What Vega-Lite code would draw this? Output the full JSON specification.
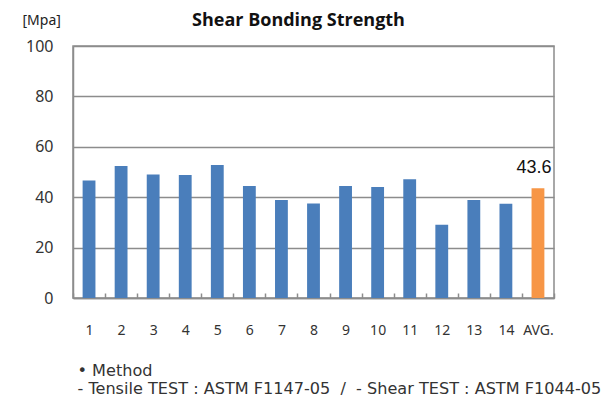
{
  "$schema": "https://vega.github.io/schema/vega-lite/v6.json",
  "width": 481,
  "height": 252,
  "autosize": "none",
  "padding": {"left": 73, "top": 46, "right": 50, "bottom": 102},
  "background": "white",
  "title": {
    "text": "Shear Bonding Strength",
    "font": "Open Sans",
    "fontSize": 18,
    "fontWeight": "bold",
    "color": "#111111",
    "anchor": "middle",
    "dx": -15,
    "offset": -17
  },
  "data": {
    "values": [
      {"sample": "1", "value": 46.6, "type": "sample"},
      {"sample": "2", "value": 52.4, "type": "sample"},
      {"sample": "3", "value": 49.0, "type": "sample"},
      {"sample": "4", "value": 48.8, "type": "sample"},
      {"sample": "5", "value": 52.8, "type": "sample"},
      {"sample": "6", "value": 44.4, "type": "sample"},
      {"sample": "7", "value": 38.9, "type": "sample"},
      {"sample": "8", "value": 37.5, "type": "sample"},
      {"sample": "9", "value": 44.4, "type": "sample"},
      {"sample": "10", "value": 44.0, "type": "sample"},
      {"sample": "11", "value": 47.1, "type": "sample"},
      {"sample": "12", "value": 29.1, "type": "sample"},
      {"sample": "13", "value": 38.9, "type": "sample"},
      {"sample": "14", "value": 37.4, "type": "sample"},
      {"sample": "AVG.", "value": 43.6, "type": "avg"}
    ]
  },
  "config": {
    "view": {"stroke": "#8c8c8c", "strokeWidth": 1.5}
  },
  "encoding": {
    "x": {
      "field": "sample",
      "type": "ordinal",
      "sort": null,
      "scale": {"paddingInner": 0, "paddingOuter": 0},
      "axis": {
        "labelAngle": 0,
        "labelFont": "Noto Sans",
        "labelFontSize": 14,
        "labelColor": "#333333",
        "labelPadding": 30,
        "tickBand": "extent",
        "tickSize": -5,
        "tickColor": "#8c8c8c",
        "tickWidth": 1.5,
        "domainColor": "#8c8c8c",
        "domainWidth": 1.5,
        "title": ["• Method", "- Tensile TEST : ASTM F1147-05\u00a0\u00a0/\u00a0\u00a0- Shear TEST : ASTM F1044-05"],
        "titleFont": "DejaVu Sans",
        "titleFontSize": 16.1,
        "titleFontWeight": "normal",
        "titleColor": "#333333",
        "titleAnchor": "start",
        "titleAlign": "left",
        "titleBaseline": "top",
        "titleX": 4,
        "titleY": 64,
        "titleLineHeight": 18
      }
    },
    "y": {
      "field": "value",
      "type": "quantitative",
      "scale": {"domain": [0, 100]},
      "axis": {
        "values": [0, 20, 40, 60, 80, 100],
        "ticks": false,
        "labelFont": "Noto Sans",
        "labelFontSize": 16,
        "labelColor": "#333333",
        "labelPadding": 20,
        "domainColor": "#8c8c8c",
        "domainWidth": 1.5,
        "gridColor": "#8c8c8c",
        "gridWidth": 1.5,
        "title": "[Mpa]",
        "titleAngle": 0,
        "titleFont": "Noto Sans",
        "titleFontSize": 14,
        "titleFontWeight": "normal",
        "titleColor": "#222222",
        "titleAlign": "left",
        "titleBaseline": "middle",
        "titleX": -51,
        "titleY": -26
      }
    }
  },
  "layer": [
    {
      "mark": {"type": "bar", "width": {"band": 0.4}},
      "encoding": {
        "color": {
          "field": "type",
          "type": "nominal",
          "scale": {"domain": ["sample", "avg"], "range": ["#4a7ebb", "#f79646"]},
          "legend": null
        }
      }
    },
    {
      "transform": [{"filter": "datum.type === 'avg'"}],
      "mark": {"type": "text", "dy": -20, "dx": -4, "font": "Liberation Sans", "fontSize": 18, "color": "#111111"},
      "encoding": {
        "text": {"field": "value", "type": "quantitative", "format": ".1f"}
      }
    }
  ]
}
